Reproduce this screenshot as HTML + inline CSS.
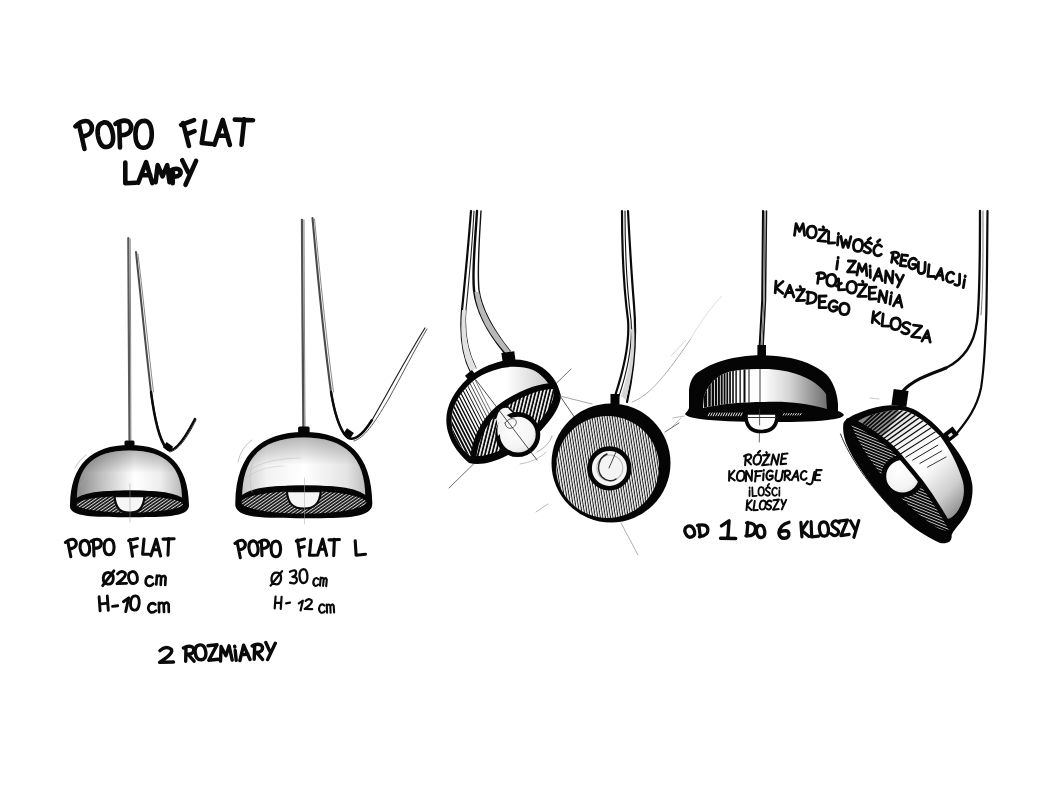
<!DOCTYPE html>
<html lang="pl"><head><meta charset="utf-8"><title>POPO FLAT lampy</title>
<style>
html,body{margin:0;padding:0;background:#fff;}
body{width:1064px;height:800px;overflow:hidden;font-family:"Liberation Sans",sans-serif;}
svg{display:block;position:absolute;left:0;top:0;}
.sr{position:absolute;left:0;top:0;width:1px;height:1px;overflow:hidden;clip:rect(0 0 0 0);color:#fff;font-size:1px;}
</style></head><body>
<svg width="1064" height="800" viewBox="0 0 1064 800">
<defs>
<linearGradient id="g1" x1="0" x2="1" y1="0" y2="0">
  <stop offset="0" stop-color="#8a8a8a"/><stop offset=".25" stop-color="#c4c4c4"/>
  <stop offset=".55" stop-color="#ffffff"/><stop offset=".8" stop-color="#ececec"/><stop offset="1" stop-color="#b8b8b8"/>
</linearGradient>
<linearGradient id="g1v" x1="0" x2="0" y1="0" y2="1">
  <stop offset="0" stop-color="#000" stop-opacity=".28"/><stop offset=".45" stop-color="#000" stop-opacity="0"/>
</linearGradient>
<linearGradient id="g2" x1="0" x2="1" y1="0" y2="0">
  <stop offset="0" stop-color="#c8c8c8"/><stop offset=".2" stop-color="#f2f2f2"/>
  <stop offset=".5" stop-color="#ffffff"/><stop offset=".85" stop-color="#e4e4e4"/><stop offset="1" stop-color="#bdbdbd"/>
</linearGradient>
<pattern id="hd" width="2.6" height="2.6" patternUnits="userSpaceOnUse" patternTransform="rotate(-35)">
  <rect width="2.6" height="2.6" fill="#111"/><rect y="0" width="2.6" height="1.0" fill="#d8d8d8"/>
</pattern>


<pattern id="hv3" width="3.4" height="3.4" patternUnits="userSpaceOnUse" patternTransform="rotate(14)">
  <rect width="3.4" height="3.4" fill="#0a0a0a"/><rect x="0" width="1.6" height="3.4" fill="#f6f6f6"/>
</pattern>
<pattern id="hv3b" width="3.2" height="3.2" patternUnits="userSpaceOnUse" patternTransform="rotate(-28)">
  <rect width="3.2" height="3.2" fill="#0a0a0a"/><rect x="0" width="1.3" height="3.2" fill="#efefef"/>
</pattern>
<pattern id="hv4" width="2.5" height="2.5" patternUnits="userSpaceOnUse" patternTransform="rotate(-9)">
  <rect width="2.5" height="2.5" fill="#1a1a1a"/><rect x="0" width="1.45" height="2.5" fill="#fafafa"/>
</pattern>
<linearGradient id="g3" x1="0" x2="1" y1="0" y2="0">
  <stop offset="0" stop-color="#fff"/><stop offset=".55" stop-color="#fff"/><stop offset="1" stop-color="#c9c9c9"/>
</linearGradient>
<radialGradient id="gb" cx=".4" cy=".35" r=".8">
  <stop offset="0" stop-color="#fff"/><stop offset=".6" stop-color="#f4f4f4"/><stop offset="1" stop-color="#d0d0d0"/>
</radialGradient>
<clipPath id="c3"><path d="M472,382 C480,375 490,371 502,368 C512,366 524,366.5 533,370 C541,374 546,380 550,386 C540,386 524,392 506,402 C488,414 476,434 473,458 C464,452 457,444 453,432 C449,416 453,399 472,382 Z"/></clipPath>


<linearGradient id="g5" x1="0" x2="1" y1="0" y2="0">
  <stop offset="0" stop-color="#fdfdfd"/><stop offset=".48" stop-color="#ffffff"/><stop offset=".7" stop-color="#d4d4d4"/><stop offset="1" stop-color="#6e6e6e"/>
</linearGradient>
<clipPath id="c5"><path d="M704,396 C709,382 720,373 733,371 C745,369 755,369 764,369 C790,369 815,378 826,394 L827,409 C806,403 786,401 764,402 C742,402 720,404 703,408 Z"/></clipPath>
<linearGradient id="g6" x1="0" x2="1" y1="0" y2="1">
  <stop offset="0" stop-color="#bdbdbd"/><stop offset=".35" stop-color="#f4f4f4"/><stop offset=".58" stop-color="#ffffff"/><stop offset=".8" stop-color="#cdcdcd"/><stop offset="1" stop-color="#777777"/>
</linearGradient>
<pattern id="hv6" width="2.7" height="2.7" patternUnits="userSpaceOnUse" patternTransform="rotate(22)">
  <rect width="2.7" height="2.7" fill="#080808"/><rect y="0" width="2.7" height="0.8" fill="#dcdcdc"/>
</pattern>
<clipPath id="c6"><path d="M858,421 C870,414 886,410 900,410 C912,411 924,420 940,436 C949,448 958,464 963,482 C965.5,493 963,504 957,512 C954,516 950,519 947,519 C940,509 930,494 921,482 C915,474 908,466 898,454 C886,440 872,428 858,421 Z"/></clipPath>
</defs>
<rect width="1064" height="800" fill="#ffffff"/>
<g id="title">
<path d="M 78.8,123.7 L 84.5,149.0 M 75.4,126.3 Q 81.8,119.6 88.1,121.4 Q 93.2,124.7 91.5,130.8 Q 89.6,135.8 81.7,136.6 M 103.8,122.4 Q 96.2,123.8 97.9,135.6 Q 100.1,147.8 106.8,147.0 Q 114.5,146.1 112.8,133.8 Q 110.6,121.5 103.8,122.4 M 119.2,122.1 L 120.0,147.5 M 115.4,123.9 Q 122.8,118.7 128.6,121.6 Q 132.9,125.7 130.1,131.3 Q 127.3,135.7 119.6,135.1 M 144.3,120.8 Q 135.9,120.9 135.4,133.8 Q 135.5,147.3 142.9,147.7 Q 151.3,148.2 151.8,134.7 Q 151.7,121.2 144.3,120.8" fill="none" stroke="#0a0a0a" stroke-width="4.60" stroke-linecap="round" stroke-linejoin="round"/>
<path d="M 183.1,123.0 L 189.0,146.0 M 181.1,124.8 L 194.1,120.1 M 186.0,134.5 L 194.6,131.2 M 205.2,121.3 L 201.7,143.0 L 212.0,144.0 M 214.4,144.7 L 222.7,119.9 L 229.9,145.0 M 217.8,135.8 L 227.5,135.5 M 234.8,119.6 L 253.0,120.2 M 244.2,119.4 L 241.5,144.8" fill="none" stroke="#0a0a0a" stroke-width="4.60" stroke-linecap="round" stroke-linejoin="round"/>
<path d="M 125.3,162.6 L 125.3,183.3 L 136.0,182.7 M 138.2,182.6 L 146.1,162.2 L 152.3,183.1 M 141.5,175.3 L 150.3,175.2 M 155.6,182.2 L 157.7,165.1 L 162.5,176.4 L 167.2,165.1 L 169.5,182.2 M 173.0,169.5 L 172.7,183.3 M 170.5,170.4 Q 175.5,167.7 179.1,169.5 Q 181.7,171.8 179.8,174.8 Q 177.8,177.1 172.8,176.5 M 182.2,160.2 L 188.3,172.5 M 196.1,160.9 L 185.5,184.8" fill="none" stroke="#0a0a0a" stroke-width="4.60" stroke-linecap="round" stroke-linejoin="round"/>
</g>
<g id="lamp1">
<path d="M128.3,238.0 L128.8,330.0 L129.5,440.0" fill="none" stroke="#5a5a5a" stroke-width="2.20" stroke-opacity="1.00" stroke-linecap="round" stroke-linejoin="round" />
<path d="M130.2,239.0 L130.6,330.0 L130.9,440.0" fill="none" stroke="#8a8a8a" stroke-width="1.00" stroke-opacity="1.00" stroke-linecap="round" stroke-linejoin="round" />
<path d="M136,252 C141,300 146,350 151,392 C154,415 158,436 166,447" fill="none" stroke="#4a4a4a" stroke-width="2.00" stroke-opacity="1.00" stroke-linecap="round" stroke-linejoin="round"/>
<path d="M138,254 C143.5,300 148.5,350 153.5,392" fill="none" stroke="#8a8a8a" stroke-width="1.00" stroke-opacity="1.00" stroke-linecap="round" stroke-linejoin="round"/>
<path d="M151,392 C154,415 158,438 166,448 C172,455 182,444 195,419" fill="none" stroke="#0a0a0a" stroke-width="2.50" stroke-opacity="1.00" stroke-linecap="round" stroke-linejoin="round"/>
<path d="M170,452 C178,450 186,440 196,420" fill="none" stroke="#333" stroke-width="1.00" stroke-opacity="1.00" stroke-linecap="round" stroke-linejoin="round"/>
<rect x="-4" y="-3.2" width="8" height="6.4" fill="#050505" transform="translate(168,447) rotate(35)"/>
<path d="M70.0,505.0 C70.5,465.1 91.2,445.0 129.5,445.0 C167.8,445.0 188.5,465.1 189.0,505.0 C189.5,517.8 161.4,517.0 129.5,517.2 C97.6,517.0 68.5,517.8 70.0,505.0 Z" fill="#050505"/>
<path d="M76.9,501.0 C76.4,466.8 93.0,450.4 129.5,450.4 C166.0,450.4 182.6,466.8 182.1,501.0 C174.1,493.6 158.5,490.5 129.5,490.5 C100.5,490.5 84.9,493.6 76.9,501.0 Z" fill="url(#g1)"/>
<path d="M76.9,501.0 C76.4,466.8 93.0,450.4 129.5,450.4 C166.0,450.4 182.6,466.8 182.1,501.0 C174.1,493.6 158.5,490.5 129.5,490.5 C100.5,490.5 84.9,493.6 76.9,501.0 Z" fill="url(#g1v)"/>
<ellipse cx="129.5" cy="504.3" rx="53.4" ry="8.2" fill="url(#hd)"/>
<path d="M114.5,496.2 C115.5,508.6 120.5,512.7 129.5,512.7 C138.5,512.7 143.5,508.6 144.5,496.2 Z" fill="#f6f6f6" stroke="#0a0a0a" stroke-width="2.2" stroke-linejoin="round"/>
<path d="M73.5,502.5 C83.5,494.1 100.5,492.5 129.5,492.5 C158.5,492.5 175.5,494.1 185.5,502.5" fill="none" stroke="#050505" stroke-width="4.2"/>
<rect x="124.5" y="440.5" width="10.0" height="6.0" rx="1.5" fill="#050505"/>
<path d="M130.0,484.0 L130.0,522.0" fill="none" stroke="#999" stroke-width="0.50" stroke-opacity="1.00" stroke-linecap="round" stroke-linejoin="round" />
<path d="M75,468 C78,462 82,458 86,455" fill="none" stroke="#999" stroke-width="0.60" stroke-opacity="1.00" stroke-linecap="round" stroke-linejoin="round"/>
<path d="M80,486 C82,482 84,480 86,479" fill="none" stroke="#aaa" stroke-width="0.50" stroke-opacity="1.00" stroke-linecap="round" stroke-linejoin="round"/>
</g>
<g id="lamp2">
<path d="M302.0,220.0 L302.6,330.0 L303.4,428.0" fill="none" stroke="#505050" stroke-width="2.30" stroke-opacity="1.00" stroke-linecap="round" stroke-linejoin="round" />
<path d="M304.0,220.0 L304.5,330.0 L305.0,428.0" fill="none" stroke="#8a8a8a" stroke-width="1.00" stroke-opacity="1.00" stroke-linecap="round" stroke-linejoin="round" />
<path d="M312.5,218 C318,280 324,340 331,392 C334,410 338,425 345,435" fill="none" stroke="#4a4a4a" stroke-width="2.10" stroke-opacity="1.00" stroke-linecap="round" stroke-linejoin="round"/>
<path d="M314.5,219 C320.5,280 326.5,340 333.5,392" fill="none" stroke="#8a8a8a" stroke-width="1.00" stroke-opacity="1.00" stroke-linecap="round" stroke-linejoin="round"/>
<path d="M331,392 C334,410 338,426 345,435 C352,444 362,436 372,420" fill="none" stroke="#0a0a0a" stroke-width="2.40" stroke-opacity="1.00" stroke-linecap="round" stroke-linejoin="round"/>
<path d="M372,420 C385,398 405,360 425,328" fill="none" stroke="#222" stroke-width="1.20" stroke-opacity="1.00" stroke-linecap="round" stroke-linejoin="round"/>
<path d="M354,441 C364,438 374,424 388,400 C402,375 415,349 427,329" fill="none" stroke="#444" stroke-width="0.90" stroke-opacity="1.00" stroke-linecap="round" stroke-linejoin="round"/>
<rect x="-4.2" y="-3.4" width="8.4" height="6.8" fill="#050505" transform="translate(348.5,433.5) rotate(35)"/>
<path d="M235.3,503.0 C235.8,455.8 259.6,432.0 303.8,432.0 C348.0,432.0 371.8,455.8 372.3,503.0 C372.8,519.5 340.7,518.0 303.8,518.2 C266.9,518.0 233.8,519.5 235.3,503.0 Z" fill="#050505"/>
<path d="M242.2,499.0 C241.7,457.9 261.6,437.4 303.8,437.4 C346.0,437.4 365.9,457.9 365.4,499.0 C357.4,488.7 337.3,485.5 303.8,485.5 C270.3,485.5 250.2,488.7 242.2,499.0 Z" fill="url(#g2)"/>
<path d="M242.2,499.0 C241.7,457.9 261.6,437.4 303.8,437.4 C346.0,437.4 365.9,457.9 365.4,499.0 C357.4,488.7 337.3,485.5 303.8,485.5 C270.3,485.5 250.2,488.7 242.2,499.0 Z" fill="url(#g1v)"/>
<ellipse cx="303.8" cy="502.3" rx="62.4" ry="11.2" fill="url(#hd)"/>
<path d="M286.8,491.2 C287.8,504.3 293.6,508.7 303.8,508.7 C314.0,508.7 319.8,504.3 320.8,491.2 Z" fill="#f6f6f6" stroke="#0a0a0a" stroke-width="2.2" stroke-linejoin="round"/>
<path d="M238.8,500.5 C248.8,489.4 270.3,487.5 303.8,487.5 C337.3,487.5 358.8,489.4 368.8,500.5" fill="none" stroke="#050505" stroke-width="4.2"/>
<rect x="298.1" y="426.5" width="11.5" height="7.0" rx="1.5" fill="#050505"/>
<path d="M249,470 C262,462 280,458 300,458" fill="none" stroke="#bbb" stroke-width="0.50" stroke-opacity="1.00" stroke-linecap="round" stroke-linejoin="round"/>
<path d="M246,478 C256,470 270,466 284,466" fill="none" stroke="#c4c4c4" stroke-width="0.50" stroke-opacity="1.00" stroke-linecap="round" stroke-linejoin="round"/>
<path d="M252,492 C248,478 250,464 258,452" fill="none" stroke="#bbb" stroke-width="0.50" stroke-opacity="1.00" stroke-linecap="round" stroke-linejoin="round"/>
<path d="M238,462 C240,452 246,444 252,440" fill="none" stroke="#999" stroke-width="0.60" stroke-opacity="1.00" stroke-linecap="round" stroke-linejoin="round"/>
<path d="M304.5,478.0 L304.5,524.0" fill="none" stroke="#aaa" stroke-width="0.50" stroke-opacity="1.00" stroke-linecap="round" stroke-linejoin="round" />
</g>
<g id="labels-left">
<path d="M 67.7,540.9 L 70.8,556.7 M 65.4,542.4 Q 69.7,538.3 73.9,539.5 Q 77.2,541.6 75.9,545.4 Q 74.5,548.5 69.3,549.0 M 84.3,540.4 Q 79.4,541.1 80.1,548.2 Q 81.2,555.5 85.5,555.2 Q 90.3,554.8 89.6,547.4 Q 88.6,540.1 84.3,540.4 M 93.4,540.3 L 94.0,556.0 M 91.0,541.4 Q 95.8,538.1 99.6,539.9 Q 102.4,542.4 100.6,545.8 Q 98.8,548.6 93.7,548.3 M 109.3,539.2 Q 104.1,539.4 104.1,546.9 Q 104.3,554.7 108.9,554.8 Q 114.0,555.0 114.1,547.1 Q 113.8,539.3 109.3,539.2" fill="none" stroke="#0a0a0a" stroke-width="3.10" stroke-linecap="round" stroke-linejoin="round"/>
<path d="M 130.1,539.6 L 132.5,556.2 M 128.7,540.6 L 137.5,538.5 M 131.2,547.9 L 137.1,546.3 M 144.0,539.1 L 142.6,554.2 L 149.2,554.3 M 150.9,555.8 L 156.3,539.1 L 160.6,556.0 M 153.1,549.8 L 159.1,549.6 M 163.0,539.1 L 174.1,538.7 M 168.7,538.5 L 168.0,555.3" fill="none" stroke="#0a0a0a" stroke-width="3.10" stroke-linecap="round" stroke-linejoin="round"/>
<path d="M 109.0,572.6 Q 104.0,572.2 103.3,577.7 Q 102.9,583.6 107.6,584.1 Q 112.5,584.7 113.3,579.0 Q 113.6,573.1 109.0,572.6 M 113.9,570.8 L 102.7,585.7 M 117.5,574.0 Q 121.2,569.7 125.1,572.8 Q 127.3,576.2 117.0,583.6 L 126.6,583.4 M 132.2,571.6 Q 127.8,572.4 128.6,578.1 Q 129.8,584.0 133.7,583.5 Q 138.2,583.0 137.3,577.0 Q 136.1,571.2 132.2,571.6" fill="none" stroke="#0a0a0a" stroke-width="2.90" stroke-linecap="round" stroke-linejoin="round"/>
<path d="M 152.3,577.5 Q 148.9,575.1 146.4,578.3 Q 144.3,582.9 147.7,585.5 Q 150.6,586.7 153.2,583.8 M 156.3,584.5 L 156.9,575.5 M 156.7,577.4 Q 159.7,574.0 161.2,577.4 L 160.7,584.8 M 161.2,577.7 Q 164.1,574.3 165.6,577.6 L 165.2,585.0" fill="none" stroke="#0a0a0a" stroke-width="2.70" stroke-linecap="round" stroke-linejoin="round"/>
<path d="M 99.1,596.6 L 100.1,610.9 M 107.3,596.0 L 108.3,610.3 M 99.6,604.1 L 107.8,603.1 M 112.5,606.4 L 117.7,605.7 M 123.4,601.7 L 128.7,597.9 L 125.7,611.6" fill="none" stroke="#0a0a0a" stroke-width="2.90" stroke-linecap="round" stroke-linejoin="round"/>
<path d="M 135.7,595.9 Q 131.2,595.6 130.5,602.5 Q 130.1,609.6 134.0,610.1 Q 138.5,610.7 139.2,603.5 Q 139.6,596.4 135.7,595.9" fill="none" stroke="#0a0a0a" stroke-width="2.90" stroke-linecap="round" stroke-linejoin="round"/>
<path d="M 155.3,604.4 Q 152.0,601.9 149.2,605.0 Q 146.9,609.3 150.2,612.0 Q 153.2,613.3 156.0,610.6 M 159.1,612.2 L 158.9,602.8 M 158.9,604.8 Q 161.8,601.0 163.7,604.3 L 164.0,612.0 M 163.8,604.7 Q 166.6,600.9 168.6,604.2 L 168.8,611.9" fill="none" stroke="#0a0a0a" stroke-width="2.70" stroke-linecap="round" stroke-linejoin="round"/>
<path d="M 237.1,541.8 L 240.3,557.7 M 235.0,543.3 Q 239.1,539.2 243.0,540.5 Q 246.2,542.6 245.0,546.4 Q 243.7,549.5 238.8,549.9 M 252.9,540.9 Q 248.3,541.6 249.0,548.7 Q 250.0,556.0 254.1,555.7 Q 258.7,555.3 258.0,547.9 Q 257.0,540.6 252.9,540.9 M 261.4,540.9 L 262.0,555.7 M 259.3,542.0 Q 263.5,538.9 266.9,540.6 Q 269.5,542.9 267.9,546.2 Q 266.2,548.8 261.7,548.4 M 276.1,541.0 Q 271.2,541.2 271.1,548.7 Q 271.3,556.5 275.6,556.7 Q 280.5,556.8 280.6,548.9 Q 280.4,541.1 276.1,541.0" fill="none" stroke="#0a0a0a" stroke-width="3.10" stroke-linecap="round" stroke-linejoin="round"/>
<path d="M 297.6,540.1 L 299.9,556.2 M 296.3,541.1 L 304.5,539.1 M 298.7,548.1 L 304.2,546.7 M 310.9,540.0 L 309.4,555.1 L 315.8,555.3 M 317.6,555.1 L 322.6,539.1 L 326.7,555.3 M 319.7,549.3 L 325.3,549.2 M 329.0,539.9 L 339.4,539.5 M 334.4,539.4 L 333.7,555.6" fill="none" stroke="#0a0a0a" stroke-width="3.10" stroke-linecap="round" stroke-linejoin="round"/>
<path d="M 355.2,540.7 L 356.1,555.2 L 365.5,554.2" fill="none" stroke="#0a0a0a" stroke-width="3.10" stroke-linecap="round" stroke-linejoin="round"/>
<path d="M 277.3,572.7 Q 272.6,572.1 271.6,577.6 Q 270.9,583.5 275.3,584.2 Q 280.0,585.1 281.0,579.3 Q 281.7,573.4 277.3,572.7 M 282.1,571.1 L 270.6,585.6" fill="none" stroke="#0a0a0a" stroke-width="2.30" stroke-linecap="round" stroke-linejoin="round"/>
<path d="M 289.9,571.7 Q 296.4,568.3 296.1,573.2 Q 295.7,576.6 292.4,576.8 Q 297.7,576.7 296.8,580.9 Q 295.7,584.8 290.0,582.7 M 303.5,569.1 Q 299.4,569.4 299.5,576.1 Q 300.0,583.1 303.5,583.0 Q 307.6,583.0 307.4,576.1 Q 307.0,569.1 303.5,569.1" fill="none" stroke="#0a0a0a" stroke-width="2.30" stroke-linecap="round" stroke-linejoin="round"/>
<path d="M 318.3,579.2 Q 316.3,576.8 314.2,579.2 Q 312.3,582.8 314.2,585.3 Q 316.0,586.8 318.1,584.6 M 320.0,585.7 L 320.7,577.6 M 320.6,579.3 Q 322.7,576.3 323.7,579.3 L 323.1,585.9 M 323.7,579.6 Q 325.8,576.6 326.8,579.6 L 326.2,586.2" fill="none" stroke="#0a0a0a" stroke-width="2.10" stroke-linecap="round" stroke-linejoin="round"/>
<path d="M 275.6,596.5 L 274.7,608.4 M 281.6,596.9 L 280.7,608.8 M 275.1,602.8 L 281.2,602.9 M 286.1,603.3 L 290.0,602.7" fill="none" stroke="#0a0a0a" stroke-width="2.20" stroke-linecap="round" stroke-linejoin="round"/>
<path d="M 298.8,603.3 L 302.9,600.6 L 300.6,610.5 M 305.6,600.9 Q 308.6,597.5 311.6,600.3 Q 313.2,603.1 304.7,609.0 L 312.2,609.2" fill="none" stroke="#0a0a0a" stroke-width="2.20" stroke-linecap="round" stroke-linejoin="round"/>
<path d="M 324.4,605.5 Q 321.9,603.1 319.8,605.9 Q 318.0,609.8 320.5,612.3 Q 322.7,613.6 324.8,611.2 M 327.1,612.8 L 326.7,604.6 M 326.8,606.4 Q 328.8,603.0 330.3,605.9 L 330.6,612.7 M 330.3,606.2 Q 332.2,602.9 333.7,605.7 L 334.1,612.5" fill="none" stroke="#0a0a0a" stroke-width="2.10" stroke-linecap="round" stroke-linejoin="round"/>
<path d="M 159.9,650.6 Q 165.3,645.3 171.1,649.1 Q 174.5,653.1 159.5,662.4 L 173.5,662.0" fill="none" stroke="#0a0a0a" stroke-width="3.40" stroke-linecap="round" stroke-linejoin="round"/>
<path d="M 186.0,647.0 L 185.7,661.2 M 183.5,647.9 Q 188.6,645.1 192.3,647.0 Q 195.0,649.4 193.0,652.4 Q 190.9,654.8 185.9,654.2 M 188.2,654.5 L 194.0,661.2 M 199.9,644.9 Q 194.4,645.6 195.2,652.7 Q 196.2,660.2 201.1,659.8 Q 206.6,659.3 205.8,651.9 Q 204.7,644.5 199.9,644.9 M 208.0,645.8 L 217.1,644.8 L 208.8,660.2 L 218.2,659.3 M 220.5,661.1 L 221.1,646.5 L 225.9,655.7 L 229.1,645.8 L 232.2,660.1 M 235.2,650.5 L 236.2,660.3 M 234.7,646.1 L 234.8,647.0 M 239.9,660.5 L 243.6,645.2 L 250.0,659.5 M 241.5,654.9 L 247.8,654.0 M 254.7,645.0 L 254.2,659.3 M 252.2,645.9 Q 257.3,643.2 261.0,645.1 Q 263.7,647.6 261.6,650.6 Q 259.5,653.0 254.4,652.3 M 256.8,652.6 L 262.5,659.4 M 265.8,642.5 L 269.7,651.1 M 275.3,643.2 L 267.6,659.6" fill="none" stroke="#0a0a0a" stroke-width="3.40" stroke-linecap="round" stroke-linejoin="round"/>
</g>
<g id="lamp3">
<path d="M471,211 C468,250 464,290 462,310 C460,335 462,355 471,372" fill="none" stroke="#0a0a0a" stroke-width="2.20" stroke-opacity="1.00" stroke-linecap="round" stroke-linejoin="round"/>
<path d="M474,211 C472,250 468,290 466,310 C464,333 468,352 476,368" fill="none" stroke="#222" stroke-width="1.10" stroke-opacity="1.00" stroke-linecap="round" stroke-linejoin="round"/>
<path d="M477,211 C475,245 472,270 474,290 C477,315 490,335 505,353" fill="none" stroke="#0a0a0a" stroke-width="2.40" stroke-opacity="1.00" stroke-linecap="round" stroke-linejoin="round"/>
<path d="M481,211 C479,245 477,270 479,290 C482,312 495,332 510,351" fill="none" stroke="#111" stroke-width="1.40" stroke-opacity="1.00" stroke-linecap="round" stroke-linejoin="round"/>
<path d="M474.5,292 C477.5,316 490.5,336 505.5,353 L510,351 C495,332 482,312 479,292 Z" fill="#b8b8b8"/>
<path d="M462,310 C460,335 462,355 471,372 L476,368 C468,352 464,333 466,310 Z" fill="#e2e2e2"/>
<path d="M449.0,488.0 L571.0,369.0" fill="none" stroke="#333" stroke-width="0.70" stroke-opacity="1.00" stroke-linecap="round" stroke-linejoin="round" />
<path d="M469,463 C460,455 452,446 448,432 C443,414 449,396 468,378 C478,369 490,364 502,361 C514,358 528,360 538,365 C550,371 558,382 561,396 C560,406 554,416 545,426 C535,438 522,448 506,456 C494,462 480,466 469,463 Z" fill="#050505"/>
<path d="M472,382 C480,375 490,371 502,368 C512,366 524,366.5 533,370 C541,374 546,380 550,386 C540,386 524,392 506,402 C488,414 476,434 473,458 C464,452 457,444 453,432 C449,416 453,399 472,382 Z" fill="url(#g3)"/>
<g clip-path="url(#c3)"><path d="M418.8,378.5 L473.2,485.5" stroke="#0a0a0a" stroke-width="2.30" stroke-linecap="round"/><path d="M422.1,378.2 L476.0,484.1" stroke="#0a0a0a" stroke-width="2.19" stroke-linecap="round"/><path d="M425.4,377.9 L478.8,482.6" stroke="#0a0a0a" stroke-width="2.08" stroke-linecap="round"/><path d="M428.7,377.5 L481.5,481.2" stroke="#0a0a0a" stroke-width="1.97" stroke-linecap="round"/><path d="M432.0,377.2 L484.3,479.8" stroke="#0a0a0a" stroke-width="1.86" stroke-linecap="round"/><path d="M435.3,376.8 L487.1,478.4" stroke="#0a0a0a" stroke-width="1.75" stroke-linecap="round"/><path d="M438.6,376.5 L489.8,477.0" stroke="#0a0a0a" stroke-width="1.64" stroke-linecap="round"/><path d="M441.9,376.2 L492.6,475.6" stroke="#0a0a0a" stroke-width="1.53" stroke-linecap="round"/><path d="M445.2,375.8 L495.3,474.2" stroke="#0a0a0a" stroke-width="1.42" stroke-linecap="round"/><path d="M448.5,375.5 L498.1,472.8" stroke="#0a0a0a" stroke-width="1.31" stroke-linecap="round"/><path d="M451.8,375.2 L500.9,471.4" stroke="#0a0a0a" stroke-width="1.20" stroke-linecap="round"/><path d="M455.1,374.8 L503.6,470.0" stroke="#0a0a0a" stroke-width="1.09" stroke-linecap="round"/><path d="M458.4,374.5 L506.4,468.6" stroke="#0a0a0a" stroke-width="0.98" stroke-linecap="round"/><path d="M461.8,374.1 L509.1,467.2" stroke="#0a0a0a" stroke-width="0.87" stroke-linecap="round"/><path d="M465.1,373.8 L511.9,465.8" stroke="#0a0a0a" stroke-width="0.76" stroke-linecap="round"/><path d="M468.4,373.5 L514.7,464.3" stroke="#0a0a0a" stroke-width="0.65" stroke-linecap="round"/><path d="M471.7,373.1 L517.4,462.9" stroke="#0a0a0a" stroke-width="0.54" stroke-linecap="round"/></g>
<path d="M474,458 C476,436 488,416 507,404 C524,394 540,388 553,388 C554,393 554,399 550,406 C544,418 532,431 518,441 C504,449 488,457 475,456 Z" fill="url(#hv3)"/>
<path d="M473,460 C475,436 487,415 506,403 C524,392 540,386 554,386" fill="none" stroke="#050505" stroke-width="6.00" stroke-opacity="1.00" stroke-linecap="round" stroke-linejoin="round"/>
<path d="M495.5,417 C498,409 503,405 509,407 L524,420 L502,438 Z" fill="#f6f6f6"/>
<path d="M495.5,418 C497,410 502,406 507,407" fill="none" stroke="#0a0a0a" stroke-width="2.00" stroke-opacity="1.00" stroke-linecap="round" stroke-linejoin="round"/>
<path d="M508,407 C511,410 514,413 516,414" fill="none" stroke="#0a0a0a" stroke-width="1.60" stroke-opacity="1.00" stroke-linecap="round" stroke-linejoin="round"/>
<circle cx="517.8" cy="434.6" r="20.2" fill="url(#gb)" stroke="#050505" stroke-width="4.6"/>
<path d="M498,436 C496,426 499,418 505,414 L514,420 Z" fill="#f4f4f4"/>
<path d="M505,423 C510,416 518,418 516,424 C513,430 506,430 505,423" fill="none" stroke="#333" stroke-width="0.80" stroke-opacity="1.00" stroke-linecap="round" stroke-linejoin="round"/>
<path d="M476.0,380.0 L537.0,460.0" fill="none" stroke="#222" stroke-width="0.80" stroke-opacity="1.00" stroke-linecap="round" stroke-linejoin="round" />
<rect x="-6.5" y="-5" width="13" height="10" fill="#050505" transform="translate(508.5,357) rotate(-8)"/>
<rect x="-4.5" y="-4" width="9" height="8" fill="#050505" transform="translate(471,376) rotate(-40)"/>
<path d="M537,452 C545,448 550,442 552,436" fill="none" stroke="#777" stroke-width="0.60" stroke-opacity="1.00" stroke-linecap="round" stroke-linejoin="round"/>
<path d="M520,464 C532,462 540,458 546,452" fill="none" stroke="#999" stroke-width="0.60" stroke-opacity="1.00" stroke-linecap="round" stroke-linejoin="round"/>
</g>
<g id="lamp4">
<path d="M622,211 C622,250 624,290 628,320 C630,345 622,375 615,396" fill="none" stroke="#0a0a0a" stroke-width="2.20" stroke-opacity="1.00" stroke-linecap="round" stroke-linejoin="round"/>
<path d="M625,211 C625,250 627,290 631,320 C633,345 626,375 619,396" fill="none" stroke="#111" stroke-width="1.10" stroke-opacity="1.00" stroke-linecap="round" stroke-linejoin="round"/>
<path d="M628,211 C630,250 632,280 634,305 C637,340 633,375 627,402" fill="none" stroke="#0a0a0a" stroke-width="2.20" stroke-opacity="1.00" stroke-linecap="round" stroke-linejoin="round"/>
<path d="M631,330 C633,350 628,375 621,396 L626,400 C632,378 636,350 634,325 Z" fill="#d6d6d6"/>
<path d="M560.0,396.0 L575.0,418.0" fill="none" stroke="#333" stroke-width="0.80" stroke-opacity="1.00" stroke-linecap="round" stroke-linejoin="round" />
<path d="M560.0,396.0 L592.0,404.0" fill="none" stroke="#666" stroke-width="0.60" stroke-opacity="1.00" stroke-linecap="round" stroke-linejoin="round" />
<path d="M665.0,432.0 L679.0,423.0" fill="none" stroke="#444" stroke-width="0.80" stroke-opacity="1.00" stroke-linecap="round" stroke-linejoin="round" />
<path d="M536.0,512.0 L548.0,504.0" fill="none" stroke="#888" stroke-width="0.60" stroke-opacity="1.00" stroke-linecap="round" stroke-linejoin="round" />
<path d="M621.0,523.0 L638.0,555.0" fill="none" stroke="#777" stroke-width="0.60" stroke-opacity="1.00" stroke-linecap="round" stroke-linejoin="round" />
<path d="M632,402 C650,396 668,372 690,340" fill="none" stroke="#777" stroke-width="0.60" stroke-opacity="1.00" stroke-linecap="round" stroke-linejoin="round"/>
<path d="M690,340 C700,322 712,306 722,296" fill="none" stroke="#bbb" stroke-width="0.50" stroke-opacity="1.00" stroke-linecap="round" stroke-linejoin="round"/>
<circle cx="611" cy="463" r="59.5" fill="#050505"/>
<ellipse cx="607.5" cy="467" rx="51.5" ry="51" fill="url(#hv4)"/>
<circle cx="609.4" cy="468.4" r="19.8" fill="#f4f4f4" stroke="#050505" stroke-width="4.6"/><circle cx="609.8" cy="468.0" r="13" fill="none" stroke="#bdbdbd" stroke-width="1.2"/>
<path d="M607,454 C598,458 596,470 602,477 C606,481 612,482 616,479" fill="none" stroke="#222" stroke-width="1.40" stroke-opacity="1.00" stroke-linecap="round" stroke-linejoin="round"/>
<path d="M609.0,468.0 L616.0,452.0" fill="none" stroke="#333" stroke-width="0.90" stroke-opacity="1.00" stroke-linecap="round" stroke-linejoin="round" />
<rect x="610.5" y="394" width="9" height="10" fill="#050505"/>
</g>
<g id="lamp5">
<path d="M763.0,211.0 L762.2,300.0 L759.5,348.0" fill="none" stroke="#0a0a0a" stroke-width="2.00" stroke-opacity="1.00" stroke-linecap="round" stroke-linejoin="round" />
<path d="M766.5,211.0 L765.5,300.0 L763.0,348.0" fill="none" stroke="#111" stroke-width="1.50" stroke-opacity="1.00" stroke-linecap="round" stroke-linejoin="round" />
<path d="M764.8,211.0 L764.0,300.0 L761.5,348.0" fill="none" stroke="#777" stroke-width="1.20" stroke-opacity="1.00" stroke-linecap="round" stroke-linejoin="round" />
<path d="M759.5,425.0 L759.3,442.0" fill="none" stroke="#444" stroke-width="0.80" stroke-opacity="1.00" stroke-linecap="round" stroke-linejoin="round" />
<path d="M671.0,356.0 L686.0,340.0" fill="none" stroke="#bbb" stroke-width="0.60" stroke-opacity="1.00" stroke-linecap="round" stroke-linejoin="round" />
<path d="M672.0,427.0 L681.0,418.0" fill="none" stroke="#999" stroke-width="0.60" stroke-opacity="1.00" stroke-linecap="round" stroke-linejoin="round" />
<path d="M673.0,418.0 L684.0,416.0" fill="none" stroke="#999" stroke-width="0.70" stroke-opacity="1.00" stroke-linecap="round" stroke-linejoin="round" />
<path d="M685,414 C686,412 688,411 689,408 L689,390 C690,380 694,374 700,371 C712,363 728,358 746,356 C756,355 770,355 784,357 C802,359 816,366 826,374 C833,381 837,392 838,404 L838,411 C841,412 843,413 844,415 C842,418 836,419 828,420 C810,422 790,422 766,422 C740,422 716,421 700,419 C692,418 686,416 685,414 Z" fill="#050505"/>
<path d="M704,396 C709,382 720,373 733,371 C745,369 755,369 764,369 C790,369 815,378 826,394 L827,409 C806,403 786,401 764,402 C742,402 720,404 703,408 Z" fill="url(#g5)"/>
<g clip-path="url(#c5)"><rect x="704.0" y="360" width="3.2" height="60" fill="#0a0a0a"/><rect x="708.2" y="360" width="2.6" height="60" fill="#0a0a0a"/><rect x="711.6" y="360" width="2.4" height="60" fill="#0a0a0a"/><rect x="714.8" y="360" width="2.2" height="60" fill="#0a0a0a"/><rect x="717.8" y="360" width="2.1" height="60" fill="#0a0a0a"/><rect x="720.7" y="360" width="2.0" height="60" fill="#0a0a0a"/><rect x="723.6" y="360" width="1.9" height="60" fill="#0a0a0a"/><rect x="726.4" y="360" width="1.8" height="60" fill="#0a0a0a"/><rect x="729.2" y="360" width="1.7" height="60" fill="#0a0a0a"/><rect x="732.2" y="360" width="1.6" height="60" fill="#0a0a0a"/><rect x="735.4" y="360" width="1.4" height="60" fill="#0a0a0a"/><rect x="739.5" y="360" width="1.3" height="60" fill="#0a0a0a"/><rect x="743.5" y="360" width="2.0" height="60" fill="#0a0a0a"/><rect x="748.5" y="360" width="1.0" height="60" fill="#0a0a0a"/><rect x="759.6" y="360" width="0.8" height="60" fill="#0a0a0a"/><rect x="700" y="360" width="40" height="16" fill="#0a0a0a" opacity=".0"/></g>
<path d="M743,395 L747,395 L747,371 L743,371 Z" fill="#fff" opacity="0"/>
<path d="M708.0,416.2 L709.8,412.6 M710.5,416.2 L712.3,412.6 M713.0,416.2 L714.8,412.6 M715.5,416.2 L717.3,412.6 M718.0,416.2 L719.8,412.6 M720.5,416.2 L722.3,412.6 M723.0,416.2 L724.8,412.6 M725.5,416.2 L727.3,412.6 M728.0,416.2 L729.8,412.6 M730.5,416.2 L732.3,412.6 M733.0,416.2 L734.8,412.6 M735.5,416.2 L737.3,412.6 M738.0,416.2 L739.8,412.6 M740.5,416.2 L742.3,412.6 M783.0,415.4 L784.5,413.2 M785.4,415.4 L786.9,413.2 M787.8,415.4 L789.3,413.2 M790.2,415.4 L791.7,413.2 M792.6,415.4 L794.1,413.2 M795.0,415.4 L796.5,413.2 M797.4,415.4 L798.9,413.2 M799.8,415.4 L801.3,413.2" stroke="#e8e8e8" stroke-width="1.0" fill="none"/>
<path d="M746,413 L746,418 C747,428 753,431.5 761,431.5 C770,431.5 776,428 777,418 L777,413 Z" fill="#fbfbfb" stroke="#050505" stroke-width="3.6" stroke-linejoin="round"/>
<path d="M748.0,417.5 L775.0,417.5" fill="none" stroke="#333" stroke-width="1.00" stroke-opacity="1.00" stroke-linecap="round" stroke-linejoin="round" />
<path d="M759.6,409.0 L759.6,425.0" fill="none" stroke="#333" stroke-width="0.80" stroke-opacity="1.00" stroke-linecap="round" stroke-linejoin="round" />
<rect x="757.4" y="345" width="8.6" height="12" fill="#050505"/>
</g>
<g id="lamp6">
<path d="M980,211 C980,260 980,300 977,322 C974,345 962,360 946,368" fill="none" stroke="#0a0a0a" stroke-width="2.30" stroke-opacity="1.00" stroke-linecap="round" stroke-linejoin="round"/>
<path d="M946,368 C930,374 912,380 902,392" fill="none" stroke="#0a0a0a" stroke-width="3.20" stroke-opacity="1.00" stroke-linecap="round" stroke-linejoin="round"/>
<path d="M987.5,211 C987,260 987,300 986,322 C985,350 984,370 981,388 C977,408 966,422 957,433" fill="none" stroke="#0a0a0a" stroke-width="2.20" stroke-opacity="1.00" stroke-linecap="round" stroke-linejoin="round"/>
<path d="M983,211 C983,260 983,290 981,315" fill="none" stroke="#666" stroke-width="0.90" stroke-opacity="1.00" stroke-linecap="round" stroke-linejoin="round"/>
<path d="M840.5,434 C850,458 868,484 895,512" fill="none" stroke="#111" stroke-width="0.90" stroke-opacity="1.00" stroke-linecap="round" stroke-linejoin="round"/>
<path d="M843.5,423 C846,418.5 853,415 861,412 C870,408.5 880,406 890,405.3 C893,405.2 895,405.4 897,405.6 C905,406 912,408 918,411.5 C928,418 936,425 942,432 C950,441 958,451 963,460 C968,468 971,476 972.3,484.6 C973,492 972,499 970.4,505 C968,512 965,517 961,522 C957,527 953,531 951.6,535 C952,538 951,540 949.7,541.5 C947,543.5 943,543.5 940,542.9 C935,541 930,538 925,535 C918,531 911,526 904.6,520 C896,513 889,506 882,497.7 C875,490 869,482 863,473 C856,463 850,453 846,443 C843.5,436 842.5,429 843.5,423 Z" fill="#050505"/>
<path d="M852,426 C857,440 867,456 880,473 C896,494 915,513 936,527 C941,530 946,531 949,530 C941,512 930,494 921,482 C908,466 886,440 850,424 Z" fill="url(#hv6)"/>
<circle cx="902.5" cy="476.3" r="18.8" fill="url(#gb)" stroke="#050505" stroke-width="5"/>
<path d="M858,421 C870,414 886,410 900,410 C912,411 924,420 940,436 C949,448 958,464 963,482 C965.5,493 963,504 957,512 C954,516 950,519 947,519 C940,509 930,494 921,482 C915,474 908,466 898,454 C886,440 872,428 858,421 Z" fill="url(#g6)"/>
<g clip-path="url(#c6)"><path d="M860.8,426.1 L904.7,385.1" stroke="#0a0a0a" stroke-width="1.90"/><path d="M863.4,427.4 L907.9,387.1" stroke="#0a0a0a" stroke-width="1.84"/><path d="M866.0,428.8 L911.0,389.1" stroke="#0a0a0a" stroke-width="1.77"/><path d="M868.6,430.3 L914.2,391.3" stroke="#0a0a0a" stroke-width="1.71"/><path d="M871.2,431.8 L917.3,393.5" stroke="#0a0a0a" stroke-width="1.64"/><path d="M873.8,433.5 L920.5,395.8" stroke="#0a0a0a" stroke-width="1.58"/><path d="M876.6,435.3 L923.8,398.3" stroke="#0a0a0a" stroke-width="1.51"/><path d="M879.4,437.3 L927.2,401.0" stroke="#0a0a0a" stroke-width="1.45"/><path d="M882.4,439.5 L930.7,403.9" stroke="#0a0a0a" stroke-width="1.38"/><path d="M885.5,441.9 L934.2,407.0" stroke="#0a0a0a" stroke-width="1.32"/><path d="M888.7,444.6 L937.9,410.4" stroke="#0a0a0a" stroke-width="1.25"/><path d="M892.0,447.7 L941.7,414.2" stroke="#0a0a0a" stroke-width="1.19"/><path d="M895.4,451.1 L945.6,418.3" stroke="#0a0a0a" stroke-width="1.12"/><path d="M898.8,455.0 L949.5,422.9" stroke="#0a0a0a" stroke-width="1.06"/><path d="M905.4,457.4 L953.6,427.9" stroke="#0a0a0a" stroke-width="0.99"/><path d="M912.3,460.3 L938.1,445.0" stroke="#0a0a0a" stroke-width="0.93"/><path d="M919.6,463.6 L942.1,450.7" stroke="#0a0a0a" stroke-width="0.86"/><path d="M927.1,467.4 L946.4,456.8" stroke="#0a0a0a" stroke-width="0.80"/><path d="M852,424 L866,408 L890,404 L900,412 L880,440 Z" fill="#0a0a0a" opacity=".35"/></g>
<path d="M848,420.5 C866,427 886,440 898,454 C908,466 915,474 921,482 C930,494 941,511 951,529" fill="none" stroke="#050505" stroke-width="4.60" stroke-opacity="1.00" stroke-linecap="round" stroke-linejoin="round"/>
<rect x="-7.5" y="-8" width="15" height="16" fill="#050505" transform="translate(900,398) rotate(8)"/>
<rect x="-6.5" y="-5" width="13" height="10" fill="#050505" transform="translate(950.5,434.5) rotate(-38)"/>
<rect x="-2.2" y="-1.4" width="4.4" height="2.8" fill="#e8e8e8" transform="translate(950.5,435) rotate(-38)"/>
<path d="M870.0,398.0 L879.0,399.0" fill="none" stroke="#bbb" stroke-width="0.80" stroke-opacity="1.00" stroke-linecap="round" stroke-linejoin="round" />
</g>
<g id="text-right">
<path d="M 794.5,235.3 L 796.1,223.6 L 799.5,231.4 L 803.1,223.7 L 804.6,235.4 M 812.1,226.1 Q 807.5,226.0 807.2,231.7 Q 807.3,237.7 811.4,237.9 Q 816.0,238.2 816.3,232.3 Q 816.2,226.4 812.1,226.1 M 819.3,229.7 L 826.9,230.2 L 818.0,240.7 L 825.8,241.3 M 823.1,226.8 L 823.6,227.5 M 828.7,231.6 L 828.4,243.0 L 834.7,242.8 M 838.2,236.9 L 837.5,245.0 M 838.5,233.4 L 838.4,234.1 M 840.9,236.4 L 843.0,247.4 L 845.8,240.0 L 848.2,247.5 L 850.9,236.6 M 858.9,239.5 Q 854.3,239.1 853.5,244.7 Q 853.0,250.7 857.1,251.3 Q 861.7,252.1 862.5,246.1 Q 863.0,240.2 858.9,239.5 M 871.6,243.8 Q 868.8,241.0 866.0,243.1 Q 863.6,245.3 867.7,247.5 Q 872.4,250.0 869.7,252.2 Q 866.9,254.0 863.9,251.3 M 868.1,239.8 L 870.5,238.0 M 881.5,246.4 Q 878.6,243.3 875.2,246.4 Q 872.3,250.6 874.9,254.4 Q 877.9,257.2 881.3,254.3 M 877.5,241.8 L 879.9,239.8" fill="none" stroke="#0a0a0a" stroke-width="2.80" stroke-linecap="round" stroke-linejoin="round"/>
<path d="M 893.4,252.3 L 891.5,262.4 M 891.5,252.7 Q 895.5,251.3 898.0,253.1 Q 899.7,255.1 897.9,257.0 Q 896.1,258.5 892.5,257.5 M 894.2,258.0 L 897.6,263.4 M 902.1,254.6 L 900.2,265.5 L 906.0,266.2 M 902.1,254.9 L 907.6,255.5 M 901.2,260.0 L 905.7,260.5 M 916.3,259.9 Q 913.6,256.7 910.2,259.7 Q 907.3,263.7 909.7,267.6 Q 912.6,270.5 915.7,267.3 L 916.0,264.7 L 912.7,264.4 M 918.5,262.1 L 918.2,270.0 Q 918.3,273.6 921.5,273.5 Q 924.8,273.4 924.9,269.5 L 925.2,262.3 M 929.1,264.6 L 927.9,276.3 L 934.1,276.5 M 935.6,278.7 L 941.1,268.5 L 943.1,279.9 M 937.8,275.1 L 942.5,275.6 M 953.8,273.8 Q 951.4,270.7 948.1,273.4 Q 945.2,277.1 947.3,280.8 Q 949.7,283.7 953.0,281.2 M 959.7,274.1 L 959.5,283.4 Q 958.8,286.6 954.7,284.4 M 964.6,279.6 L 963.3,287.6 M 965.2,276.0 L 965.1,276.7" fill="none" stroke="#0a0a0a" stroke-width="2.80" stroke-linecap="round" stroke-linejoin="round"/>
<path d="M 837.7,261.0 L 836.6,269.1 M 838.2,257.5 L 838.1,258.2 M 848.3,261.0 L 855.6,261.2 L 847.5,271.8 L 855.0,272.0 M 856.9,275.0 L 859.0,263.7 L 862.0,271.4 L 865.8,264.1 L 866.8,275.6 M 870.2,269.6 L 870.3,277.5 M 870.1,266.0 L 870.1,266.7 M 873.7,280.1 L 878.7,268.6 L 882.2,280.6 M 875.8,276.0 L 881.1,276.1 M 885.2,282.7 L 886.0,270.9 L 892.2,283.0 L 893.0,271.2 M 896.1,274.6 L 899.2,280.9 M 903.5,275.2 L 897.5,287.1" fill="none" stroke="#0a0a0a" stroke-width="2.80" stroke-linecap="round" stroke-linejoin="round"/>
<path d="M 819.0,273.1 L 817.6,283.4 M 816.9,273.5 Q 821.2,272.0 824.1,273.6 Q 826.1,275.7 824.2,277.7 Q 822.3,279.3 818.3,278.4 M 832.3,274.4 Q 827.6,273.9 826.8,279.5 Q 826.3,285.3 830.5,286.0 Q 835.2,286.7 836.0,281.0 Q 836.5,275.1 832.3,274.4 M 838.6,278.8 L 838.6,289.9 L 844.9,289.6 M 836.4,286.1 L 841.4,283.2 M 852.3,281.3 Q 847.4,281.0 847.0,286.6 Q 846.8,292.5 851.0,293.0 Q 855.8,293.5 856.3,287.7 Q 856.5,281.7 852.3,281.3 M 858.5,284.6 L 866.7,284.7 L 857.8,296.3 L 866.3,296.4 M 862.5,281.3 L 863.0,282.1 M 869.4,287.1 L 869.3,299.1 L 876.2,298.9 M 869.4,287.5 L 876.0,287.2 M 869.4,293.1 L 874.8,292.8 M 878.6,301.7 L 880.2,290.6 L 885.5,302.6 L 887.1,291.4 M 891.1,296.1 L 889.9,304.0 M 891.6,292.6 L 891.5,293.3 M 893.4,305.9 L 899.2,295.3 L 901.9,307.1 M 895.7,302.1 L 901.0,302.6" fill="none" stroke="#0a0a0a" stroke-width="2.80" stroke-linecap="round" stroke-linejoin="round"/>
<path d="M 776.0,281.1 L 775.2,292.9 M 783.0,281.5 L 775.9,287.7 L 782.9,293.4 M 784.8,296.7 L 789.8,285.2 L 793.9,297.0 M 786.9,292.5 L 792.6,292.5 M 796.4,289.8 L 804.4,289.5 L 796.4,300.7 L 804.6,300.4 M 800.1,286.5 L 800.6,287.2 M 808.3,291.9 L 807.6,303.5 M 806.9,292.2 Q 817.1,291.9 816.2,298.1 Q 815.3,303.9 806.7,303.3 M 819.4,295.8 L 819.2,307.7 L 826.2,307.6 M 819.4,296.2 L 826.1,296.0 M 819.3,301.8 L 824.8,301.5 M 837.1,302.4 Q 834.1,299.3 830.5,302.3 Q 827.5,306.2 830.2,309.9 Q 833.5,312.8 836.8,309.6 L 837.0,307.0 L 833.4,306.8 M 845.1,303.3 Q 840.3,302.8 839.7,308.2 Q 839.4,313.9 843.6,314.5 Q 848.3,315.2 849.0,309.5 Q 849.3,303.9 845.1,303.3" fill="none" stroke="#0a0a0a" stroke-width="2.80" stroke-linecap="round" stroke-linejoin="round"/>
<path d="M 873.6,311.6 L 872.2,322.6 M 880.1,312.4 L 873.1,317.8 L 879.2,323.5 M 883.2,314.0 L 882.0,325.8 L 888.8,326.1 M 896.4,318.0 Q 891.5,317.6 890.9,323.2 Q 890.6,329.0 894.9,329.6 Q 899.7,330.2 900.3,324.4 Q 900.6,318.5 896.4,318.0 M 910.1,324.0 Q 907.0,321.1 903.8,323.3 Q 901.2,325.7 905.8,328.0 Q 911.1,330.6 908.2,333.0 Q 905.0,335.0 901.6,332.0 M 913.5,325.2 L 921.7,326.2 L 911.6,336.6 L 920.1,337.6 M 921.9,341.1 L 927.6,330.8 L 930.2,342.2 M 924.2,337.4 L 929.4,337.9" fill="none" stroke="#0a0a0a" stroke-width="2.80" stroke-linecap="round" stroke-linejoin="round"/>
<path d="M 745.9,455.2 L 745.1,465.1 M 744.1,456.1 Q 747.7,453.7 750.3,454.7 Q 752.1,456.1 750.5,458.4 Q 749.0,460.3 745.5,460.3 M 747.1,460.3 L 750.9,464.4 M 758.2,454.5 Q 754.4,454.7 753.6,459.6 Q 753.1,464.6 756.4,464.6 Q 760.2,464.6 761.0,459.5 Q 761.6,454.5 758.2,454.5 M 758.0,452.7 L 760.1,450.9 M 763.1,455.4 L 769.5,454.6 L 762.2,465.3 L 768.8,464.5 M 766.3,452.2 L 766.7,452.8 M 771.1,464.6 L 773.2,454.5 L 776.9,464.7 L 779.0,454.5 M 782.3,453.7 L 780.7,464.1 L 786.2,463.8 M 782.3,454.0 L 787.5,453.5 M 781.5,458.9 L 785.8,458.5" fill="none" stroke="#0a0a0a" stroke-width="2.10" stroke-linecap="round" stroke-linejoin="round"/>
<path d="M 729.3,471.0 L 729.1,480.8 M 734.4,470.6 L 729.4,476.5 L 734.7,480.4 M 741.5,470.8 Q 737.7,470.8 737.0,475.6 Q 736.5,480.7 739.9,480.9 Q 743.7,481.2 744.4,476.1 Q 744.9,471.0 741.5,470.8 M 745.8,481.1 L 746.3,470.7 L 751.6,480.7 L 752.1,470.3 M 756.2,471.0 L 755.1,481.4 M 755.0,471.5 L 761.7,471.0 M 755.6,476.2 L 760.1,475.8 M 763.6,473.2 L 763.1,480.2 M 763.8,470.1 L 763.8,470.8 M 772.6,471.6 Q 770.1,469.3 767.5,472.3 Q 765.3,476.2 767.5,479.1 Q 770.2,481.2 772.6,477.9 L 772.7,475.6 L 769.9,475.9 M 776.7,470.6 L 775.5,477.9 Q 775.3,481.2 778.3,481.1 Q 781.3,481.1 781.8,477.6 L 782.8,470.9 M 785.2,471.2 L 784.6,480.3 M 783.5,471.9 Q 786.9,470.0 789.2,471.0 Q 790.9,472.4 789.5,474.4 Q 788.1,476.1 784.9,475.9 M 786.4,476.0 L 789.9,480.0 M 791.7,479.9 L 796.8,470.6 L 798.3,480.4 M 793.7,476.6 L 797.9,476.7 M 806.4,471.9 Q 804.1,469.8 801.7,472.7 Q 799.7,476.4 801.8,479.0 Q 804.1,480.9 806.5,478.2 M 814.4,472.1 L 812.3,482.4 Q 811.0,485.9 806.8,483.1 M 816.5,469.8 L 814.7,480.0 L 820.1,480.2 M 816.4,470.1 L 821.6,470.1 M 815.6,474.9 L 819.8,474.9" fill="none" stroke="#0a0a0a" stroke-width="2.10" stroke-linecap="round" stroke-linejoin="round"/>
<path d="M 749.6,490.2 L 749.5,496.1 M 749.6,487.5 L 749.6,488.1 M 752.3,487.4 L 752.6,496.2 L 756.7,495.8 M 761.5,487.1 Q 758.7,487.0 758.4,491.2 Q 758.4,495.5 760.9,495.7 Q 763.7,495.9 763.9,491.6 Q 764.0,487.3 761.5,487.1 M 770.1,488.4 Q 768.2,486.4 766.4,488.1 Q 765.0,490.1 767.7,491.6 Q 770.9,493.2 769.3,495.1 Q 767.5,496.7 765.4,494.7 M 767.7,485.5 L 769.1,483.9 M 776.8,488.7 Q 774.9,486.5 772.9,489.0 Q 771.3,492.2 773.1,494.9 Q 775.0,496.8 776.9,494.5 M 779.4,490.1 L 779.3,495.8 M 779.5,487.6 L 779.5,488.1" fill="none" stroke="#0a0a0a" stroke-width="1.80" stroke-linecap="round" stroke-linejoin="round"/>
<path d="M 747.3,500.2 L 746.5,510.1 M 751.8,500.2 L 747.0,505.7 L 751.4,510.0 M 754.8,500.9 L 753.4,510.2 L 757.7,510.1 M 763.5,500.4 Q 760.4,500.4 759.8,504.8 Q 759.3,509.5 762.0,509.6 Q 765.0,509.8 765.7,505.2 Q 766.2,500.5 763.5,500.4 M 771.4,501.5 Q 769.4,499.6 767.5,501.6 Q 766.1,503.8 769.0,505.0 Q 772.2,506.4 770.6,508.5 Q 768.7,510.4 766.6,508.5 M 773.5,500.2 L 778.9,499.6 L 773.1,509.7 L 778.6,509.1 M 781.4,499.8 L 783.1,504.5 M 786.2,499.9 L 781.8,509.4" fill="none" stroke="#0a0a0a" stroke-width="2.00" stroke-linecap="round" stroke-linejoin="round"/>
<path d="M 687.8,526.2 Q 683.4,528.1 685.4,533.2 Q 687.7,538.4 691.7,536.9 Q 696.2,535.3 694.1,530.0 Q 691.7,524.8 687.8,526.2 M 698.8,524.9 L 700.3,536.8 M 697.5,525.4 Q 707.6,523.2 707.9,529.7 Q 708.2,535.7 699.4,536.8" fill="none" stroke="#0a0a0a" stroke-width="3.30" stroke-linecap="round" stroke-linejoin="round"/>
<path d="M 721.5,525.9 L 729.0,520.8 L 727.8,538.6 M 720.5,538.3 L 735.7,538.5" fill="none" stroke="#0a0a0a" stroke-width="3.40" stroke-linecap="round" stroke-linejoin="round"/>
<path d="M 747.9,522.5 L 746.8,536.1 M 746.6,522.8 Q 756.5,522.5 755.4,529.9 Q 754.3,536.6 745.9,535.9 M 760.1,525.4 Q 755.9,526.0 756.5,531.8 Q 757.4,537.9 761.2,537.5 Q 765.4,537.2 764.7,531.1 Q 763.8,525.1 760.1,525.4" fill="none" stroke="#0a0a0a" stroke-width="3.30" stroke-linecap="round" stroke-linejoin="round"/>
<path d="M 789.0,522.3 Q 779.8,524.6 778.9,533.0 Q 779.5,538.4 784.4,538.3 Q 789.4,537.9 788.8,533.1 Q 787.4,529.0 779.8,532.0" fill="none" stroke="#0a0a0a" stroke-width="3.40" stroke-linecap="round" stroke-linejoin="round"/>
<path d="M 800.9,522.4 L 801.9,536.9 M 807.4,521.9 L 801.7,530.5 L 809.0,536.4 M 811.1,521.7 L 811.7,536.9 L 818.5,536.2 M 823.4,521.8 Q 818.8,522.3 819.4,529.3 Q 820.3,536.5 824.4,536.2 Q 829.0,535.9 828.4,528.7 Q 827.6,521.5 823.4,521.8 M 839.2,522.7 Q 836.0,519.1 832.9,522.1 Q 830.3,525.5 835.1,528.1 Q 840.5,531.1 837.6,534.4 Q 834.5,537.1 830.9,533.6 M 839.5,521.2 L 847.5,520.0 L 840.9,535.6 L 849.1,534.3 M 850.5,520.9 L 854.8,528.9 M 858.8,520.6 L 853.9,537.3" fill="none" stroke="#0a0a0a" stroke-width="3.20" stroke-linecap="round" stroke-linejoin="round"/>
</g>
</svg>
<div class="sr">POPO FLAT LAMPY. POPO FLAT Ø20 cm H-10 cm. POPO FLAT L Ø30 cm H-12 cm. 2 ROZMIARY. MOŻLIWOŚĆ REGULACJI I ZMIANY POŁOŻENIA KAŻDEGO KLOSZA. RÓŻNE KONFIGURACJE ILOŚCI KLOSZY. OD 1 DO 6 KLOSZY.</div>
</body></html>
